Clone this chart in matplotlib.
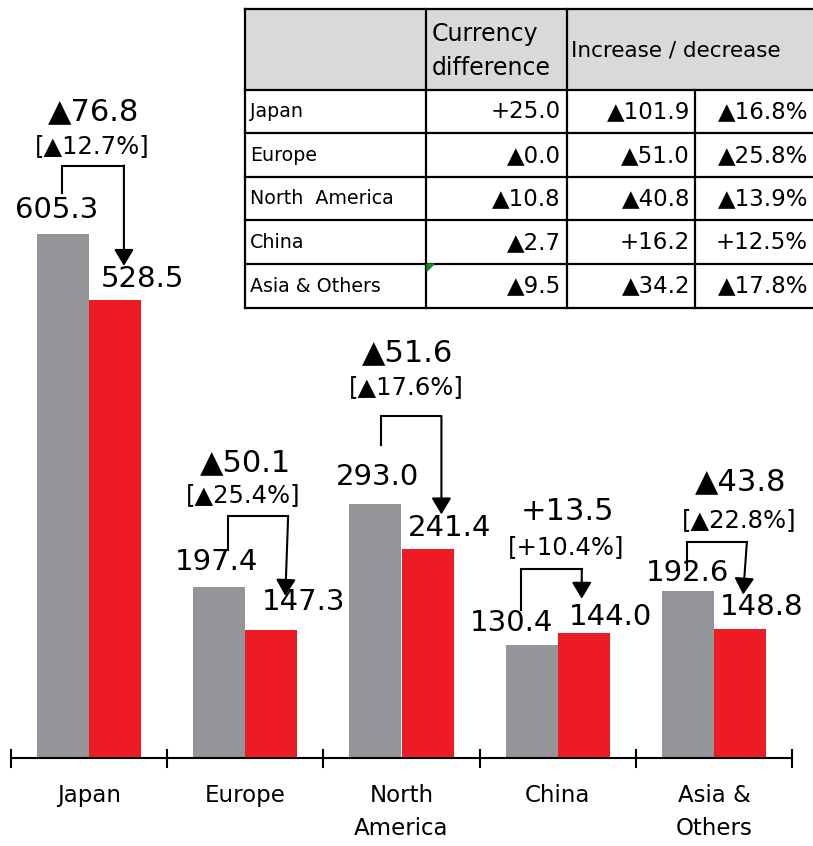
import matplotlib
matplotlib.use("Agg")
import matplotlib.pyplot as plt
import numpy as np

# chart data
regions = ["Japan", "Europe", "North\nAmerica", "China", "Asia &\nOthers"]
prev_vals = [605.3, 197.4, 293.0, 130.4, 192.6]
cur_vals = [528.5, 147.3, 241.4, 144.0, 148.8]
diff_labels = ["▲76.8", "▲50.1", "▲51.6", "+13.5", "▲43.8"]
pct_labels = ["[▲12.7%]", "[▲25.4%]", "[▲17.6%]", "[+10.4%]", "[▲22.8%]"]

# table data
table_rows = ["Japan", "Europe", "North  America", "China", "Asia & Others"]
currency_diff = ["+25.0", "▲0.0", "▲10.8", "▲2.7", "▲9.5"]
change_abs = ["▲101.9", "▲51.0", "▲40.8", "+16.2", "▲34.2"]
change_pct = ["▲16.8%", "▲25.8%", "▲13.9%", "+12.5%", "▲17.8%"]

# layout tweaks for the hand placed bracket arrows (data units)
arrow_rise = [79, 82, 102, 88, 57]
leg_gap = [47.6, 43, 68.6, 40.6, 24.6]
tip_gap = 40
left_dx = [-0.006, 0.058, 0.033, -0.07, -0.006]
right_dx = [0.057, 0.108, 0.089, -0.013, 0.044]
tip_dx = [0.057, 0.09, 0.089, -0.013, 0.02]
label_dx = [0.03, 0.0, 0.04, 0.065, 0.17]
diff_rise = [62, 62, 73, 66, 70]
pct_rise = [22, 24.5, 33, 25, 25.5]
gray_off = [(-6, 24), (-3, 25), (2, 27), (-20, 22), (0, 18)]
red_off = [(27, 21), (32, 28), (22, 21), (27, 16), (22, 22)]

GRAY = "#939598"
RED = "#ED1C24"
W = 0.333

fig = plt.figure(figsize=(8.13, 8.46), dpi=100)
ax = fig.add_axes([0, 0, 1, 1])
ax.set_xlim(-0.5696, 4.6336)
ax.set_ylim(-101.65, 875.6)
ax.axis("off")

x = np.arange(len(regions))
ax.bar(x - W / 2, prev_vals, W, color=GRAY, zorder=2)
ax.bar(x + W / 2, cur_vals, W, color=RED, zorder=2)

# axis line with category separators
ax.plot([-0.5, 4.5], [0, 0], color="black", lw=1.5, zorder=3)
for b in np.arange(-0.5, 5, 1):
    ax.plot([b, b], [-10, 9.5], color="black", lw=1.5, zorder=3)
for i, r in enumerate(regions):
    ax.text(i, -30, r, ha="center", va="top", fontsize=16.5, linespacing=1.55)

for i in range(len(regions)):
    gx = i - W / 2
    rx = i + W / 2
    ax.annotate(f"{prev_vals[i]:.1f}", (gx, prev_vals[i]),
                xytext=gray_off[i], textcoords="offset pixels",
                ha="center", va="center", fontsize=21)
    ax.annotate(f"{cur_vals[i]:.1f}", (rx, cur_vals[i]),
                xytext=red_off[i], textcoords="offset pixels",
                ha="center", va="center", fontsize=21)

    top = prev_vals[i] + arrow_rise[i]
    x0 = gx + left_dx[i]
    x1 = rx + right_dx[i]
    ax.plot([x0, x0, x1], [prev_vals[i] + leg_gap[i], top, top],
            color="black", lw=1.5, solid_joinstyle="miter", zorder=4)
    ax.annotate("", xy=(rx + tip_dx[i], cur_vals[i] + tip_gap), xytext=(x1, top),
                arrowprops=dict(arrowstyle="-|>,head_length=1.0,head_width=0.6",
                                color="black", lw=1.5, shrinkA=0, shrinkB=0),
                zorder=4)

    ax.text(i + label_dx[i], top + diff_rise[i], diff_labels[i],
            ha="center", va="center", fontsize=22)
    ax.text(i + label_dx[i] - 0.012, top + pct_rise[i], pct_labels[i],
            ha="center", va="center", fontsize=17.5)

# table overlay in pixel coordinates
tax = fig.add_axes([0, 0, 1, 1])
tax.set_xlim(0, 813)
tax.set_ylim(846, 0)
tax.axis("off")
tax.patch.set_alpha(0)

tx0, tx1 = 245, 813
cols = [245, 426, 567, 695]
row_lines = [9, 90, 133.5, 177, 220.5, 264, 308]
tax.add_patch(plt.Rectangle((tx0, 9), tx1 - tx0, 81, color="#D9D9D9", zorder=1))
tax.add_patch(plt.Rectangle((tx0, 90), tx1 - tx0, 218, color="white", zorder=1))
for yl in row_lines:
    tax.plot([tx0, tx1], [yl, yl], color="black", lw=1.6, zorder=3)
for c in cols[:3]:
    tax.plot([c, c], [9, 308], color="black", lw=1.6, zorder=3)
tax.plot([cols[3], cols[3]], [90, 308], color="black", lw=1.6, zorder=3)
tax.add_patch(plt.Polygon([[427, 264], [434, 264], [427, 271]], color="#1a8a1a", zorder=4))

tax.text(432, 34, "Currency", ha="left", va="center", fontsize=17, zorder=5)
tax.text(432, 68, "difference", ha="left", va="center", fontsize=17, zorder=5)
tax.text(571, 50, "Increase / decrease", ha="left", va="center", fontsize=15.5, zorder=5)

for j in range(len(table_rows)):
    yc = (row_lines[j + 1] + row_lines[j + 2]) / 2
    tax.text(250, yc, table_rows[j], ha="left", va="center", fontsize=13.7, zorder=5)
    tax.text(561, yc, currency_diff[j], ha="right", va="center", fontsize=16.5, zorder=5)
    tax.text(690, yc, change_abs[j], ha="right", va="center", fontsize=16.5, zorder=5)
    tax.text(808, yc, change_pct[j], ha="right", va="center", fontsize=16.5, zorder=5)

fig.savefig("out.png", dpi=100)
